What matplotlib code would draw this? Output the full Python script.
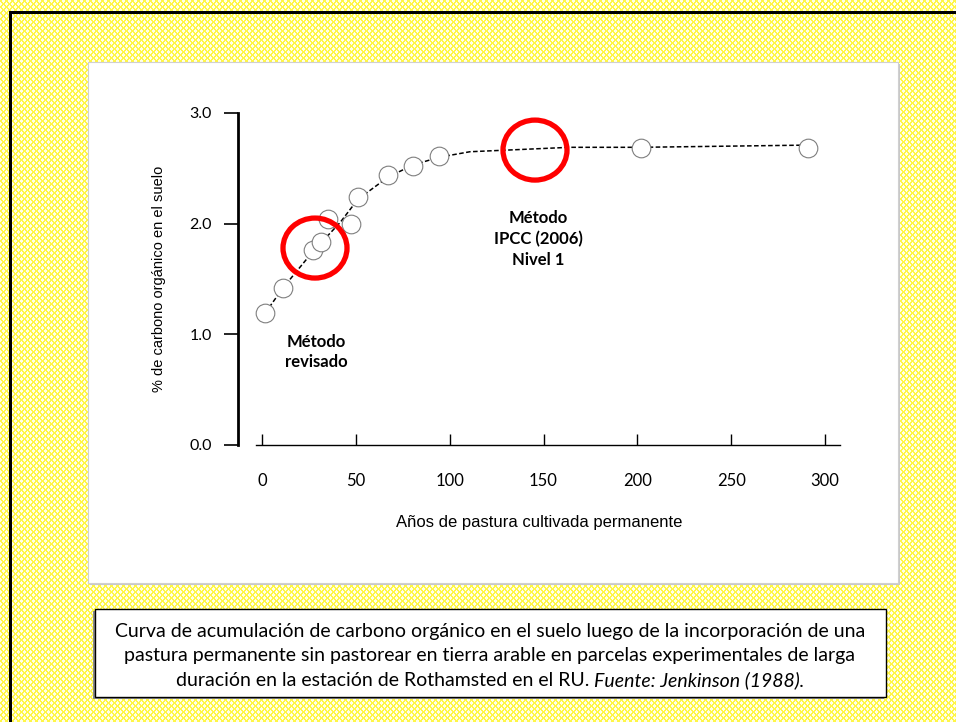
import numpy as np
import matplotlib
matplotlib.use("Agg")
import matplotlib.pyplot as plt
from matplotlib.patches import Rectangle, Ellipse

# data
years = [1.6, 11.2, 27.2, 31.4, 35.2, 47.4, 51.1, 67.1, 80.4, 94.3, 201.9, 290.9]
carbon = [1.19, 1.42, 1.76, 1.83, 2.04, 2.00, 2.24, 2.44, 2.52, 2.61, 2.68, 2.68]

# dashed trend line
curve_years = [1.6, 11.2, 27.2, 41.6, 51.1, 67.1, 80.4, 94.3, 110.8, 137.5, 164.0, 202.0, 291.0]
curve_carbon = [1.19, 1.42, 1.75, 2.01, 2.22, 2.42, 2.53, 2.60, 2.65, 2.67, 2.69, 2.69, 2.71]

x_ticks = [0, 50, 100, 150, 200, 250, 300]
y_ticks = [0.0, 1.0, 2.0, 3.0]

caption_lines = [
    'Curva de acumulación de carbono orgánico en el suelo luego de la incorporación de una',
    'pastura permanente sin pastorear en tierra arable en parcelas experimentales de larga',
    'duración en la estación de Rothamsted en el RU. ',
]
caption_source = 'Fuente: Jenkinson (1988).'

W, H = 956, 722
fig = plt.figure(figsize=(W / 100, H / 100), dpi=100)


def fx(px):
    return px / W


def fy(py):
    return 1 - py / H


def frect(x0, y0, x1, y1, **kw):
    r = Rectangle((fx(x0), fy(y1)), fx(x1) - fx(x0), fy(y0) - fy(y1),
                  transform=fig.transFigure, **kw)
    fig.add_artist(r)
    return r


# yellow lattice background (slide pattern fill) with the black frame baked in
ii, jj = np.mgrid[0:H, 0:W]
lattice = (((ii + jj) % 6) < 2) | (((ii - jj) % 6) < 2)
bg = np.empty((H, W, 3))
bg[:] = np.array([255, 255, 232]) / 255
bg[lattice] = np.array([255, 246, 70]) / 255
bg[11:14, 9:] = 0
bg[11:, 9:12] = 0
fig.figimage(bg, xo=0, yo=0, zorder=0)
# right margin strip drawn again on top so nothing stray shows there
fig.figimage(bg[:, 905:], xo=905, yo=0, zorder=20)

# white chart panel with light shadow
frect(90, 64, 900, 585, facecolor='#C8C8C8', lw=0, zorder=1)
frect(88, 62, 898, 583, facecolor='white', edgecolor='#D0D0D0', lw=0.8, zorder=2)
# caption box
frect(93, 611, 884, 699, facecolor='#8C8C8C', lw=0, zorder=1)
frect(95, 609, 886, 697, facecolor='white', edgecolor='black', lw=1.0, zorder=2)

ax_l, ax_r, ax_t, ax_b = 238, 840, 113, 445
ax = fig.add_axes([fx(ax_l), fy(ax_b), fx(ax_r) - fx(ax_l), fy(ax_t) - fy(ax_b)])
ax.set_zorder(3)
ax.patch.set_alpha(0)

px_per_year = (825 - 262) / 300
xmin = (ax_l - 262) / px_per_year
xmax = (ax_r - 262) / px_per_year
ax.set_xlim(xmin, xmax)
ax.set_ylim(0, 3)

ax.plot(curve_years, curve_carbon, color='black', lw=1.1, ls=(0, (3, 1.6)), zorder=2)
ax.scatter(years, carbon, s=180, facecolor='white', edgecolor='#7F7F7F', lw=0.8, zorder=3)

# red highlight rings
rx = 32 / px_per_year
ry = 30 / 110.7
ax.add_patch(Ellipse(((315 - 262) / px_per_year, (445 - 248) / 110.7), 2 * rx, 2 * ry,
                     fill=False, edgecolor='#FF0000', lw=3.8, zorder=4))
ax.add_patch(Ellipse(((535 - 262) / px_per_year, (445 - 150) / 110.7), 2 * rx, 2 * ry,
                     fill=False, edgecolor='#FF0000', lw=3.8, zorder=4))

ax.text((316 - 262) / px_per_year, (445 - 352) / 110.7, 'Método\nrevisado',
        ha='center', va='center', fontsize=12, fontweight='bold', family='Lato',
        linespacing=1.3)
ax.text((538 - 262) / px_per_year, (445 - 239) / 110.7, 'Método\nIPCC (2006)\nNivel 1',
        ha='center', va='center', fontsize=12, fontweight='bold', family='Lato',
        linespacing=1.4)

for s in ['top', 'right']:
    ax.spines[s].set_visible(False)
ax.spines['left'].set_linewidth(2)
ax.spines['left'].set_bounds(0, 3)
ax.spines['bottom'].set_linewidth(1)
ax.spines['bottom'].set_bounds((256 - 262) / px_per_year, xmax)

ax.set_xticks(x_ticks)
ax.set_xticklabels([str(v) for v in x_ticks], family='Lato', fontsize=12)
ax.set_yticks(y_ticks)
ax.set_yticklabels([f'{v:.1f}' for v in y_ticks], family='Lato', fontsize=11.5)
ax.tick_params(axis='x', direction='in', length=8, width=1, pad=20)
ax.tick_params(axis='y', direction='out', length=10, width=1.2, pad=9)

ax.set_xlabel('Años de pastura cultivada permanente', family='Liberation Sans',
              fontsize=12, labelpad=19)
ax.set_ylabel('% de carbono orgánico en el suelo', family='Liberation Sans',
              fontsize=10.5, labelpad=17)

# caption, one line at a time; the source in italics on the last line
cap_y = [632, 656, 680]
cap_kw = dict(va='center', fontsize=14, family='Lato', zorder=5)
for line, y in zip(caption_lines[:2], cap_y[:2]):
    fig.text(fx(490), fy(y), line, ha='center', **cap_kw)
renderer = fig.canvas.get_renderer()
t1 = fig.text(0, fy(cap_y[2]), caption_lines[2], ha='left', **cap_kw)
t2 = fig.text(0, fy(cap_y[2]), caption_source, ha='left', style='italic', **cap_kw)
w1 = t1.get_window_extent(renderer).width
w2 = t2.get_window_extent(renderer).width
start = 490 - (w1 + w2) / 2
t1.set_x(fx(start))
t2.set_x(fx(start + w1))

fig.savefig('out.png', dpi=100)
